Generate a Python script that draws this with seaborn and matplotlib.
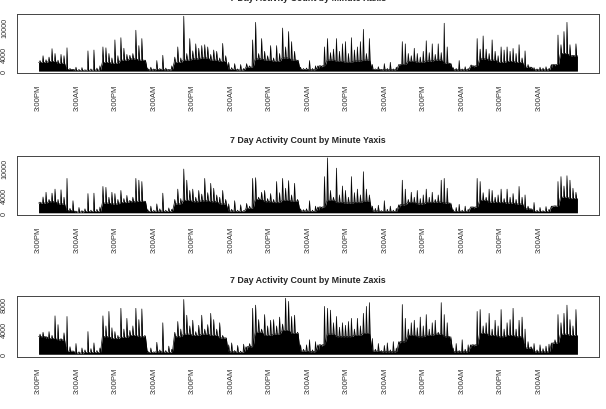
import numpy as np
import pandas as pd
import seaborn as sns
import matplotlib
matplotlib.use('Agg')
import matplotlib.pyplot as plt

sns.set_style('white')
plt.rcParams['font.family'] = ['Liberation Sans', 'DejaVu Sans']

# 7 days of minutes, counts per ~56 min bin (spike tops)
# and per ~168 min bin (height of the dense black mass)
total_minutes = 10080
tick_minutes = [720 * k for k in range(14)]
tick_labels = ['3:00PM', '3:00AM'] * 7
titles = ['7 Day Activity Count by Minute Xaxis',
          '7 Day Activity Count by Minute Yaxis',
          '7 Day Activity Count by Minute Zaxis']

x_peak = [2400, 3500, 2600, 3200, 5100, 4000, 2500, 3800, 3500, 5300,
          600, 300, 900, 400, 800, 300, 4600, 500, 4800, 700, 1200,
          5500, 5300, 4000, 3000, 7100, 3500, 7600, 5200, 3800, 3600, 4000, 9300, 5800, 7400, 1800,
          600, 900, 500, 2400, 600, 3600, 700, 400, 1200,
          3200, 5500, 3000, 12500, 4000, 7400, 4600, 6200, 5200, 5800, 6000, 5500, 3800, 4800, 4500, 3000, 6300, 3500, 2000,
          800, 1700, 500, 1500, 600, 1700, 1200,
          7100, 11100, 4000, 7400, 4500, 3500, 5800, 3000, 5800, 4000, 9800, 5500, 9000, 6700, 4500, 2200, 900,
          600, 700, 2400, 600, 1200, 500, 900,
          5500, 7400, 4200, 5000, 7400, 4500, 6200, 6700, 4000, 7600, 4800, 5500, 6700, 9500, 4000, 7400, 1500,
          500, 1000, 400, 1700, 600, 2000, 500, 900, 1300,
          6700, 6200, 4000, 3500, 5200, 4000, 3200, 4500, 6900, 4200, 6200, 3800, 6200, 4200, 10900, 5500, 1200,
          800, 600, 2400, 500, 1000, 600, 1400, 900,
          7400, 5000, 8000, 5000, 4000, 7100, 4500, 3500, 5500, 4800, 5500, 4500, 5150, 4000, 6000, 3000, 4600, 1500,
          600, 800, 500, 900, 700, 1000, 600, 800, 1200,
          8200, 6000, 9000, 11100, 6000, 3600, 6200]
x_mass = [2000, 2200, 1800, 400, 150, 200, 250, 2000, 1800, 2500,
          2800, 2500, 300, 350, 300, 2000, 2500, 2800, 3000, 2500,
          2200, 400, 250, 900, 2800, 2500, 2200, 3000, 2500, 400,
          300, 1200, 2500, 2200, 2000, 2300, 2500, 400, 300, 300,
          1500, 2200, 2000, 2300, 2500, 1800, 300, 300, 1200, 2800,
          2500, 2000, 2200, 2000, 900, 300, 300, 1500, 4000, 3500]

y_peak = [2400, 3550, 4600, 3000, 4400, 5300, 3000, 5150, 3500, 7700,
          1000, 2700, 400, 1200, 500, 900, 4300, 600, 4400, 800, 1300,
          5900, 5700, 3500, 4600, 4300, 3000, 5000, 3200, 3900, 2800, 3500, 7700, 7300, 7000, 2500,
          700, 1500, 600, 2000, 900, 4400, 600, 1100, 800,
          3000, 5300, 3200, 9800, 7300, 5000, 5300, 3500, 5000, 4200, 7700, 4500, 6600, 5500, 4000, 3500, 5000, 3000, 2000,
          800, 2700, 600, 1800, 500, 2100, 1500,
          7700, 7850, 3500, 4600, 5000, 3200, 4300, 3000, 7000, 4500, 7700, 5500, 7200, 4000, 6600, 3000, 900,
          700, 900, 2700, 600, 1500, 500, 1000,
          8100, 12300, 5000, 3500, 10000, 4000, 6000, 5000, 3500, 8100, 4500, 5300, 4000, 9200, 5300, 4000, 1500,
          1000, 1700, 500, 2700, 800, 1500, 600, 1000, 900,
          7300, 5300, 3000, 4600, 3500, 5000, 3200, 4000, 5300, 3500, 4600, 3000, 4000, 7300, 7700, 5500, 1200,
          700, 1200, 1900, 600, 1500, 800, 1300, 900,
          7700, 7000, 4500, 3500, 5300, 5000, 3500, 4000, 5300, 3200, 5300, 3500, 4300, 3000, 5900, 3500, 4000, 1500,
          700, 2300, 600, 1200, 500, 1400, 800, 1200, 1600,
          7000, 8100, 6000, 8300, 7300, 5500, 4600]
y_mass = [2200, 2500, 2000, 500, 200, 300, 300, 2200, 2000, 2300,
          2500, 2600, 300, 400, 300, 2000, 2800, 2500, 2700, 2500,
          2000, 400, 300, 1000, 3000, 2500, 2300, 2800, 2600, 400,
          300, 1300, 2800, 2300, 2200, 2300, 2600, 400, 300, 300,
          1800, 2300, 2000, 2300, 2400, 2200, 300, 300, 1300, 2800,
          2400, 2300, 2200, 2000, 900, 300, 300, 1500, 3500, 3200]

z_peak = [3200, 3500, 2500, 3600, 3000, 6100, 4700, 2500, 3400, 6000,
          1200, 500, 1700, 400, 1000, 700, 3600, 900, 1800, 600, 1000,
          6100, 4500, 6800, 4200, 3600, 3000, 7300, 4000, 5700, 3800, 4500, 7300, 5500, 7200, 3000,
          500, 1000, 400, 1900, 700, 5000, 600, 1300, 800,
          3500, 5200, 4000, 8700, 6200, 4500, 5400, 3600, 4600, 6200, 4000, 4700, 6500, 5500, 4000, 5000, 3000, 2600, 1500,
          1800, 600, 1400, 500, 1600, 700, 1700,
          7300, 7800, 5500, 4000, 6300, 4500, 5400, 5500, 4500, 5900, 4800, 8900, 8400, 6000, 6200, 3500, 1500,
          800, 1500, 2300, 700, 2000, 600, 1200,
          7600, 7300, 7000, 5000, 6000, 4300, 5000, 4600, 5200, 5700, 4000, 5700, 4500, 6500, 7600, 8200, 2500,
          800, 1700, 600, 1400, 1800, 700, 2000, 1000, 1500,
          7900, 5700, 4000, 5000, 5400, 4200, 5900, 4500, 6300, 4000, 5000, 5400, 3500, 8200, 6300, 5000, 1500,
          1000, 1700, 600, 2300, 800, 1500, 1000, 1300,
          6800, 7100, 4500, 5000, 6500, 4000, 5400, 4500, 7100, 4000, 5000, 5500, 7300, 4000, 5400, 5900, 4000, 2000,
          1200, 1700, 700, 1500, 900, 1300, 1600, 800, 2300,
          6300, 5000, 6500, 7800, 5500, 4500, 7100]
z_mass = [2800, 2500, 2300, 500, 200, 300, 300, 2800, 2500, 2700,
          3000, 2800, 300, 400, 300, 2800, 3200, 3000, 3200, 3000,
          2600, 400, 300, 1200, 3500, 3000, 3200, 3800, 3300, 500,
          400, 1500, 3200, 2800, 2800, 3000, 3300, 500, 400, 400,
          2000, 3000, 2800, 3000, 3200, 2800, 400, 400, 1500, 3300,
          3000, 2800, 3000, 2800, 1000, 400, 400, 1800, 3200, 3000]

y_ticks = [[0, 2000, 4000, 6000, 8000, 10000, 12000],
           [0, 2000, 4000, 6000, 8000, 10000, 12000],
           [0, 2000, 4000, 6000, 8000]]
y_ticklabels = [['0', '', '4000', '', '', '10000', ''],
                ['0', '', '4000', '', '', '10000', ''],
                ['0', '', '4000', '', '8000']]

series = [(x_peak, x_mass), (y_peak, y_mass), (z_peak, z_mass)]

fig = plt.figure(figsize=(6.06, 4.10), dpi=100)
W, H = 606, 410
boxes = [(15, 74.3), (156.7, 216), (297, 357.5)]   # top / bottom in px

for k, (peak, mass) in enumerate(series):
    top, bot = boxes[k]
    ax = fig.add_axes([17 / W, (H - bot) / H, 582 / W, (bot - top) / H])

    peak = np.array(peak, dtype=float)
    mass = np.array(mass, dtype=float)
    wp = total_minutes / len(peak)
    tp = np.arange(len(peak)) * wp
    idx = (np.arange(len(peak)) * len(mass)) // len(peak)

    # each bin: drop to the mass level, spike to the peak, back to the mass
    n = len(peak)
    xs = np.empty(3 * n)
    ys = np.empty(3 * n)
    xs[0::3] = tp + 0.3 * wp
    xs[1::3] = tp + 0.5 * wp
    xs[2::3] = tp + 0.7 * wp
    ys[0::3] = mass[idx]
    ys[1::3] = peak
    ys[2::3] = mass[idx]
    xs = np.concatenate([[0], xs, [total_minutes]])
    ys = np.concatenate([[mass[0]], ys, [mass[-1]]])
    df = pd.DataFrame({'minute': xs, 'count': ys})

    ax.fill_between(df['minute'], 0, df['count'], color='black', lw=0)
    sns.lineplot(data=df, x='minute', y='count', ax=ax, color='black',
                 lw=0.5, sort=False, estimator=None)

    ymax = peak.max()
    ax.set_xlim(-0.04 * total_minutes, 1.04 * total_minutes)
    ax.set_ylim(-0.04 * ymax, 1.04 * ymax)

    ax.set_xticks(tick_minutes)
    ax.set_xticklabels(tick_labels, rotation=90, fontsize=5.6, color='#333333')
    ax.set_yticks(y_ticks[k])
    ax.set_yticklabels(y_ticklabels[k], rotation=90, va='center',
                       fontsize=5.2, color='#333333')
    ax.tick_params(axis='x', direction='out', length=2.9, width=0.6,
                   color='#444444', pad=4.6)
    ax.tick_params(axis='y', direction='out', length=2.9, width=0.6,
                   color='#444444', pad=3.6)
    ax.set_xlabel('')
    ax.set_ylabel('')
    for s in ax.spines.values():
        s.set_visible(True)
        s.set_color('#444444')
        s.set_linewidth(0.7)
    ax.set_title(titles[k], fontsize=6.4, fontweight='bold', pad=9.8)

fig.savefig('out.png', dpi=100)
